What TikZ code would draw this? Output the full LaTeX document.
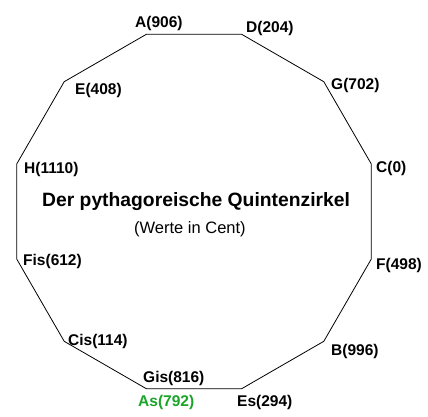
\documentclass[tikz,border=0pt]{standalone}
\usepackage{fontspec}
\setmainfont{Liberation Sans}
\usepackage{tikz}
\usepackage{xcolor}
\definecolor{asgreen}{RGB}{24,165,40}
\tikzset{tone/.style={anchor=base west,inner sep=0pt,font=\fontsize{15.5}{16}\selectfont\bfseries},
 circle line/.style={draw=black,line width=0.8pt,line join=miter},
 heading/.style={anchor=base west,inner sep=0pt,font=\fontsize{19.3}{20}\selectfont\bfseries},
 subheading/.style={anchor=base west,inner sep=0pt,font=\fontsize{16.5}{17}\selectfont},
 }

\begin{document}
\begin{tikzpicture}[x=1pt,y=-1pt]
        \useasboundingbox (0,0) rectangle (428,416);
        % corners of the circle of fifths
        \coordinate (vC) at (371.3,164.0);
        \coordinate (vG) at (323.8,81.7);
        \coordinate (vD) at (241.5,34.2);
        \coordinate (vA) at (146.5,34.2);
        \coordinate (vE) at (64.2,81.7);
        \coordinate (vH) at (16.7,164.0);
        \coordinate (vFis) at (16.7,259.0);
        \coordinate (vCis) at (64.2,341.3);
        \coordinate (vGis) at (146.5,388.8);
        \coordinate (vEs) at (241.5,388.8);
        \coordinate (vB) at (323.8,341.3);
        \coordinate (vF) at (371.3,259.0);
        \draw[circle line] (vC) -- (vG) -- (vD) -- (vA) -- (vE) -- (vH) -- (vFis)
            -- (vCis) -- (vGis) -- (vEs) -- (vB) -- (vF) -- cycle;
        % tones
        \node[tone] (lA) at (135,27.5) {A(906)};
        \node[tone] (lD) at (246,32) {D(204)};
        \node[tone] (lG) at (331,89) {G(702)};
        \node[tone] (lC) at (376,172) {C(0)};
        \node[tone] (lF) at (376,269) {F(498)};
        \node[tone] (lB) at (331,355) {B(996)};
        \node[tone] (lEs) at (237,406) {Es(294)};
        \node[tone] (lGis) at (143,382) {Gis(816)};
        \node[tone, asgreen] (lAs) at (138,406) {As(792)};
        \node[tone] (lCis) at (68,345) {Cis(114)};
        \node[tone] (lFis) at (23,265) {Fis(612)};
        \node[tone] (lH) at (24,173) {H(1110)};
        \node[tone] (lE) at (75,94) {E(408)};
        \node[heading] (title) at (42,206) {Der pythagoreische Quintenzirkel};
        \node[subheading] (unit) at (134,233) {(Werte in Cent)};
    \end{tikzpicture}
\end{document}
